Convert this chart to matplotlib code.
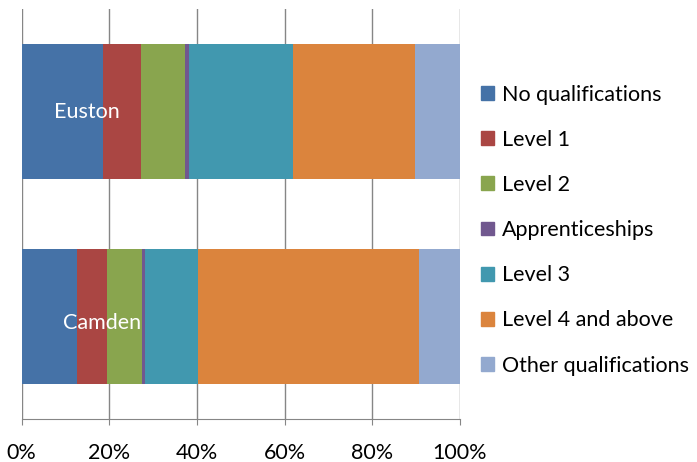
import matplotlib
matplotlib.use('Agg')
import matplotlib.pyplot as plt
from matplotlib.patches import Patch
from matplotlib.ticker import PercentFormatter

plt.rcParams['font.family'] = ['Lato', 'DejaVu Sans']

# shares (%) per area
areas = ['Camden', 'Euston']
levels = ['No qualifications', 'Level 1', 'Level 2', 'Apprenticeships',
          'Level 3', 'Level 4 and above', 'Other qualifications']
camden = [12.7, 6.8, 8.0, 0.7, 12.1, 50.4, 9.3]
euston = [18.6, 8.7, 9.9, 0.9, 23.9, 27.9, 10.1]
colors = ['#4572A7', '#AA4643', '#89A54E', '#71588F', '#4198AF', '#DB843D', '#93A9CF']

fig = plt.figure(figsize=(6.97, 4.62), dpi=100)
ax = fig.add_axes([0.0311, 0.0931, 0.6285, 0.8874])

ypos = [0.5, 1.5]
rows = [camden, euston]
for j, lev in enumerate(levels):
    vals = [r[j] for r in rows]
    lefts = [sum(r[:j]) for r in rows]
    ax.barh(ypos, vals, left=lefts, height=0.66, color=colors[j],
            edgecolor='none', label=lev, zorder=2)

# area names written inside the bars
ax.text(14.9, 1.5, areas[1], color='white', fontsize=15.5, ha='center', va='center', zorder=3)
ax.text(18.3, 0.47, areas[0], color='white', fontsize=15.5, ha='center', va='center', zorder=3)

ax.set_xlim(0, 100)
ax.set_ylim(0, 2)
ax.set_xticks(range(0, 101, 20))
ax.xaxis.set_major_formatter(PercentFormatter(decimals=0))
ax.set_yticks([])
ax.grid(axis='x', color='#868686', lw=1.0, zorder=0)
for s in ['top', 'right', 'left']:
    ax.spines[s].set_visible(False)
ax.spines['bottom'].set_color('#868686')
ax.tick_params(axis='x', direction='out', length=4, color='#868686',
               labelsize=15.5, pad=13)

handles = [Patch(color=c, label=l) for c, l in zip(colors, levels)]
fig.legend(handles=handles, loc='center left', bbox_to_anchor=(481 / 697, 0.502),
           frameon=False, fontsize=15.5, borderpad=0, borderaxespad=0,
           handlelength=0.62, handleheight=0.62, handletextpad=0.35, labelspacing=1.17)

fig.savefig('out.png', dpi=100)
